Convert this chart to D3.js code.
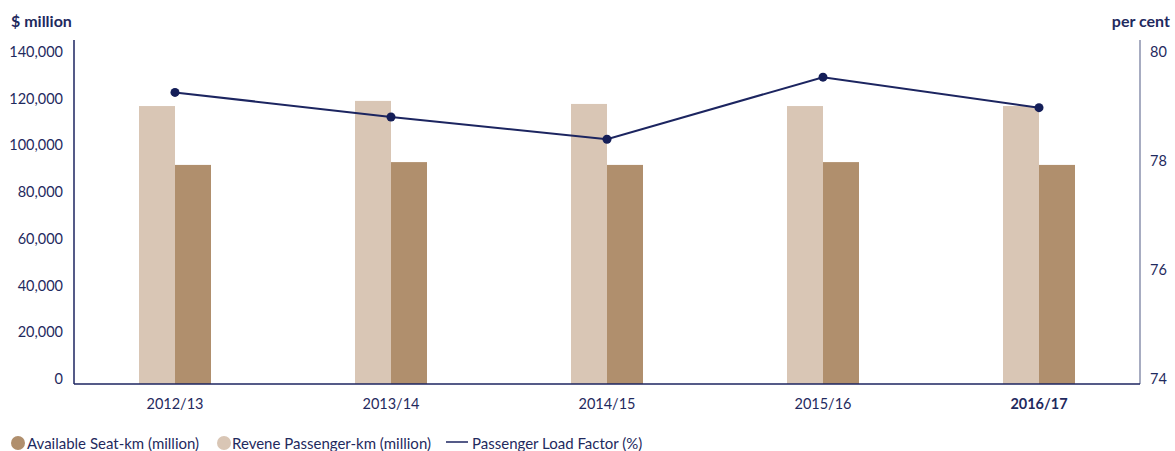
<!DOCTYPE html>
<html>
<head>
<meta charset="utf-8">
<script src="https://cdn.jsdelivr.net/npm/d3@7"></script>
<style>
	body { margin: 0; background: #fff; }
	svg text { font-family: Lato, "Noto Sans", sans-serif; fill: #1f2a5e; }
</style>
</head>
<body>
<svg width="1175" height="451"></svg>
<script>
// values
let years = ["2012/13", "2013/14", "2014/15", "2015/16", "2016/17"];
let seat_km = [93800, 95000, 93800, 95000, 93800];
let revenue_km = [119000, 121200, 119900, 119000, 119000];
let load_factor = [79.35, 78.9, 78.49, 79.63, 79.07];
let left_ticks = [0, 20000, 40000, 60000, 80000, 100000, 120000, 140000];
let right_ticks = [74, 76, 78, 80];

function draw_chart() {
	let svg = d3.select("svg");
	let navy = "#1c2560";
	let light = "#d9c6b5";
	let dark = "#b08f6d";

	let left = 74, right = 1140, top = 40, bottom = 384;

	let x = d3.scalePoint()
		.domain(years)
		.range([175, 1039]);
	let y = d3.scaleLinear()
		.domain([0, 140000])
		.range([bottom, 57]);
	let y2 = d3.scaleLinear()
		.domain([74, 80])
		.range([bottom, 57]);
	let bar_w = 36;

	// bars
	svg.selectAll(".rev")
		.data(years)
		.enter()
		.append("rect")
		.attr("class", "rev")
		.attr("x", function(d) { return x(d) - bar_w; })
		.attr("y", function(d, i) { return y(revenue_km[i]); })
		.attr("width", bar_w)
		.attr("height", function(d, i) { return bottom - y(revenue_km[i]); })
		.attr("fill", light);

	svg.selectAll(".seat")
		.data(years)
		.enter()
		.append("rect")
		.attr("class", "seat")
		.attr("x", function(d) { return x(d); })
		.attr("y", function(d, i) { return y(seat_km[i]); })
		.attr("width", bar_w)
		.attr("height", function(d, i) { return bottom - y(seat_km[i]); })
		.attr("fill", dark);

	// axes lines
	svg.append("line")
		.attr("x1", left).attr("x2", left)
		.attr("y1", top).attr("y2", bottom)
		.attr("stroke", navy).attr("stroke-width", 1.5);
	svg.append("line")
		.attr("x1", right).attr("x2", right)
		.attr("y1", top).attr("y2", bottom)
		.attr("stroke", "#8a90ad").attr("stroke-width", 1.5);
	svg.append("line")
		.attr("x1", left).attr("x2", right)
		.attr("y1", bottom).attr("y2", bottom)
		.attr("stroke", navy).attr("stroke-width", 1.5);

	// tick labels
	let fmt = d3.format(",");
	svg.selectAll(".lt")
		.data(left_ticks)
		.enter()
		.append("text")
		.attr("class", "lt")
		.attr("x", 63)
		.attr("y", function(d) { return y(d); })
		.attr("text-anchor", "end")
		.style("font-size", "14.5px")
		.text(function(d) { return fmt(d); });

	svg.selectAll(".rt")
		.data(right_ticks)
		.enter()
		.append("text")
		.attr("class", "rt")
		.attr("x", 1150)
		.attr("y", function(d) { return y2(d); })
		.style("font-size", "14.5px")
		.text(function(d) { return d; });

	svg.selectAll(".xt")
		.data(years)
		.enter()
		.append("text")
		.attr("class", "xt")
		.attr("x", function(d) { return x(d); })
		.attr("y", 409)
		.attr("text-anchor", "middle")
		.style("font-size", "14.5px")
		.style("font-weight", function(d, i) { return i == years.length - 1 ? "bold" : "normal"; })
		.text(function(d) { return d; });

	svg.append("text")
		.attr("x", 11).attr("y", 27)
		.style("font-size", "16px").style("font-weight", "bold")
		.text("$ million");
	svg.append("text")
		.attr("x", 1170).attr("y", 27)
		.attr("text-anchor", "end")
		.style("font-size", "16px").style("font-weight", "bold")
		.text("per cent");

	// load factor line
	let line_generator = d3.line()
		.x(function(d, i) { return x(years[i]); })
		.y(function(d) { return y2(d); });

	svg.append("path")
		.attr("d", line_generator(load_factor))
		.attr("fill", "none")
		.attr("stroke", navy)
		.attr("stroke-width", 2);

	svg.selectAll(".pt")
		.data(load_factor)
		.enter()
		.append("circle")
		.attr("class", "pt")
		.attr("cx", function(d, i) { return x(years[i]); })
		.attr("cy", function(d) { return y2(d); })
		.attr("r", 4.5)
		.attr("fill", "#141e58");

	// legend
	let lg = svg.append("g");
	lg.append("circle").attr("cx", 18).attr("cy", 443).attr("r", 7).attr("fill", dark);
	lg.append("text").attr("x", 27).attr("y", 448.5).style("font-size", "15px")
		.text("Available Seat-km (million)");
	lg.append("circle").attr("cx", 224).attr("cy", 443).attr("r", 7).attr("fill", light);
	lg.append("text").attr("x", 232).attr("y", 448.5).style("font-size", "15px")
		.text("Revene Passenger-km (million)");
	lg.append("line").attr("x1", 446).attr("x2", 468).attr("y1", 442).attr("y2", 442)
		.attr("stroke", navy).attr("stroke-width", 1.5);
	lg.append("text").attr("x", 472).attr("y", 448.5).style("font-size", "15px")
		.text("Passenger Load Factor (%)");
}

draw_chart();
</script>
</body>
</html>
